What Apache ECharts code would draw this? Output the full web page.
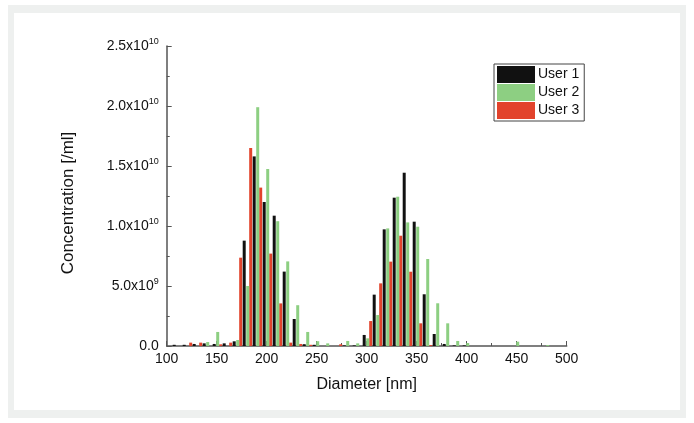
<!DOCTYPE html>
<html>
<head>
<meta charset="utf-8">
<script src="https://cdn.jsdelivr.net/npm/echarts@6/dist/echarts.min.js"></script>
<style>
  html, body { margin: 0; padding: 0; background: #ffffff; }
  #chart { width: 694px; height: 423px; }
</style>
</head>
<body>
<div id="chart"></div>
<script>
// Bin centres of the size distribution [nm]
const diameters = [
  107.5, 117.5, 127.5, 137.5, 147.5, 157.5, 167.5, 177.5, 187.5, 197.5,
  207.5, 217.5, 227.5, 237.5, 247.5, 257.5, 267.5, 277.5, 287.5, 297.5,
  307.5, 317.5, 327.5, 337.5, 347.5, 357.5, 367.5, 377.5, 387.5, 397.5,
  407.5, 417.5, 427.5, 437.5, 447.5, 457.5, 467.5, 477.5, 487.5
];

// Concentration per bin [/ml]
const user1 = [
  0.10e9, 0.10e9, 0.17e9, 0.22e9, 0.17e9, 0.22e9, 0.39e9, 8.78e9, 15.8e9, 12.0e9,
  10.86e9, 6.2e9, 2.25e9, 0.15e9, 0.10e9, 0, 0, 0.05e9, 0.05e9, 0.92e9,
  4.28e9, 9.72e9, 12.36e9, 14.44e9, 10.36e9, 4.31e9, 1.0e9, 0.17e9, 0.05e9, 0.05e9,
  0, 0, 0, 0, 0, 0, 0, 0, 0
];
const user2 = [
  0, 0, 0, 0.33e9, 1.17e9, 0, 0.50e9, 5.0e9, 19.9e9, 14.75e9,
  10.4e9, 7.05e9, 3.4e9, 1.17e9, 0.40e9, 0.22e9, 0, 0.42e9, 0.22e9, 0.64e9,
  2.58e9, 9.8e9, 12.44e9, 10.3e9, 9.94e9, 7.25e9, 3.56e9, 1.89e9, 0.42e9, 0.25e9,
  0, 0, 0, 0, 0.36e9, 0, 0, 0.08e9, 0
];
const user3 = [
  0, 0, 0.28e9, 0.28e9, 0, 0.14e9, 0.28e9, 7.36e9, 16.5e9, 13.2e9,
  7.7e9, 3.55e9, 0.28e9, 0.17e9, 0.10e9, 0, 0, 0.14e9, 0, 0,
  2.08e9, 5.22e9, 7.03e9, 9.19e9, 6.19e9, 1.89e9, 0.08e9, 0, 0, 0,
  0, 0, 0, 0, 0, 0, 0, 0, 0
];

// Axis tick labels
const yTickLabels = {
  0: '{m|0.0}',
  5e9: '{m|5.0x10}{e|9}',
  1e10: '{m|1.0x10}{e|10}',
  1.5e10: '{m|1.5x10}{e|10}',
  2e10: '{m|2.0x10}{e|10}',
  2.5e10: '{m|2.5x10}{e|10}'
};

const colors = { 'User 1': '#111111', 'User 2': '#8dcf82', 'User 3': '#e2432c' };
const FONT = '"Liberation Sans", Arial, sans-serif';

function pairs(values) {
  return diameters.map((d, i) => [d, values[i]]);
}

// Drawn left to right inside each bin: User 3, User 1, User 2
const seriesOrder = [['User 3', user3], ['User 1', user1], ['User 2', user2]];

const chart = echarts.init(document.getElementById('chart'), null, { renderer: 'canvas' });

chart.setOption({
  animation: false,
  backgroundColor: '#ffffff',
  textStyle: { fontFamily: FONT },
  graphic: [
    { type: 'rect', z: -10, silent: true,
      shape: { x: 8, y: 5, width: 678, height: 413 },
      style: { fill: '#eef0ef' } },
    { type: 'rect', z: -9, silent: true,
      shape: { x: 14, y: 13, width: 666, height: 397 },
      style: { fill: '#ffffff' } }
  ],
  grid: { left: 166.7, right: 127.3, top: 46, bottom: 77, containLabel: false },
  legend: {
    orient: 'vertical',
    left: 494, top: 64,
    data: ['User 1', 'User 2', 'User 3'],
    icon: 'rect',
    itemWidth: 38, itemHeight: 17, itemGap: 1,
    padding: [2, 5, 2, 3],
    borderColor: '#444', borderWidth: 1,
    textStyle: { fontSize: 14, color: '#111', fontFamily: FONT, padding: [0, 0, 0, -2] }
  },
  xAxis: {
    type: 'value',
    min: 100, max: 500, interval: 50,
    name: 'Diameter [nm]',
    nameLocation: 'middle', nameGap: 31,
    nameTextStyle: { fontSize: 16, color: '#111', fontFamily: FONT },
    axisLine: { show: true, onZero: false, lineStyle: { color: '#555', width: 1.5 } },
    axisTick: { show: true, inside: true, length: 5, lineStyle: { color: '#555', width: 1 } },
    minorTick: { show: true, splitNumber: 2, length: 3, lineStyle: { color: '#555', width: 1 } },
    axisLabel: { fontSize: 14, color: '#111', margin: 6, fontFamily: FONT },
    splitLine: { show: false }
  },
  yAxis: {
    type: 'value',
    min: 0, max: 2.5e10, interval: 5e9,
    name: 'Concentration [/ml]',
    nameLocation: 'middle', nameGap: 90,
    nameTextStyle: { fontSize: 17, color: '#111', fontFamily: FONT, padding: [0, 14, 0, 0] },
    axisLine: { show: true, lineStyle: { color: '#555', width: 1.5 } },
    axisTick: { show: true, inside: true, length: 5, lineStyle: { color: '#555', width: 1 } },
    minorTick: { show: true, splitNumber: 2, length: 3, lineStyle: { color: '#555', width: 1 } },
    axisLabel: {
      margin: 8,
      fontFamily: FONT,
      formatter: v => yTickLabels[v] || '',
      rich: {
        m: { fontSize: 14, color: '#111', fontFamily: FONT, lineHeight: 17 },
        e: { fontSize: 9, color: '#111', fontFamily: FONT, verticalAlign: 'top', lineHeight: 17 }
      }
    },
    splitLine: { show: false }
  },
  series: seriesOrder.map(([name, values]) => ({
    name,
    type: 'bar',
    data: pairs(values),
    barWidth: 3,
    barGap: '17%',
    itemStyle: { color: colors[name] },
    emphasis: { disabled: true }
  }))
});
</script>
</body>
</html>
